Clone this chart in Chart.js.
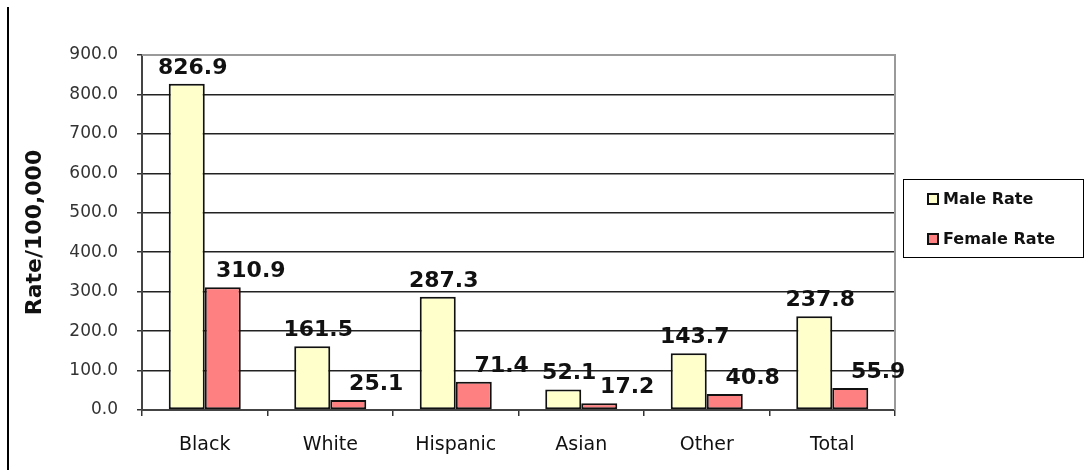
<!DOCTYPE html>
<html>
<head>
<meta charset="utf-8">
<script src="https://cdn.jsdelivr.net/npm/chart.js@4.4.0/dist/chart.umd.min.js"></script>
<style>
  html, body { margin: 0; padding: 0; background: #fff; }
  canvas { display: block; }
</style>
</head>
<body>
<canvas id="rateChart" width="1089" height="470"></canvas>
<script>
// Rates per 100,000 by group
const groups = ['Black', 'White', 'Hispanic', 'Asian', 'Other', 'Total'];
const maleRate = [826.9, 161.5, 287.3, 52.1, 143.7, 237.8];
const femaleRate = [310.9, 25.1, 71.4, 17.2, 40.8, 55.9];
const seriesNames = ['Male Rate', 'Female Rate'];

const FONT = '"DejaVu Sans", sans-serif';

// Value labels above each bar, nudged right like the spreadsheet output
const valueLabels = {
  id: 'valueLabels',
  afterDatasetsDraw(chart) {
    const ctx = chart.ctx;
    ctx.save();
    ctx.font = 'bold 22px ' + FONT;
    ctx.fillStyle = '#111';
    ctx.textAlign = 'center';
    ctx.textBaseline = 'alphabetic';
    chart.data.datasets.forEach((ds, di) => {
      const shift = di === 0 ? 6 : 28;
      chart.getDatasetMeta(di).data.forEach((bar, i) => {
        ctx.fillText(ds.data[i].toFixed(1), bar.x + shift, bar.y - 10);
      });
    });
    ctx.restore();
  }
};

// Plot frame, page rule and boxed legend
const decorations = {
  id: 'decorations',
  beforeDatasetsDraw(chart) {
    const { ctx, chartArea: a } = chart;
    ctx.save();
    ctx.strokeStyle = '#9a9a9a';
    ctx.lineWidth = 2;
    ctx.beginPath();
    ctx.moveTo(a.left, a.top);
    ctx.lineTo(a.right, a.top);
    ctx.lineTo(a.right, a.bottom);
    ctx.stroke();
    ctx.restore();
  },
  afterDraw(chart) {
    const ctx = chart.ctx;
    ctx.save();
    // left rule
    ctx.fillStyle = '#000';
    ctx.fillRect(7, 7, 2, 463);

    // legend box
    const lx = 903, ly = 179, lw = 180, lh = 78;
    ctx.strokeStyle = '#000';
    ctx.lineWidth = 1;
    ctx.strokeRect(lx + 0.5, ly + 0.5, lw, lh);
    ctx.font = 'bold 16px ' + FONT;
    ctx.textBaseline = 'middle';
    ctx.textAlign = 'left';
    chart.data.datasets.forEach((ds, i) => {
      const cy = ly + 20 + i * 40;
      ctx.fillStyle = ds.backgroundColor;
      ctx.fillRect(lx + 25, cy - 5, 10, 10);
      ctx.lineWidth = 2;
      ctx.strokeStyle = '#111';
      ctx.strokeRect(lx + 25, cy - 5, 10, 10);
      ctx.fillStyle = '#111';
      ctx.fillText(ds.label, lx + 40, cy + 1);
    });
    ctx.restore();
  }
};

new Chart(document.getElementById('rateChart'), {
  type: 'bar',
  data: {
    labels: groups,
    datasets: [
      {
        label: seriesNames[0],
        data: maleRate,
        backgroundColor: '#ffffcc',
        borderColor: '#111',
        borderWidth: 2,
        borderSkipped: false
      },
      {
        label: seriesNames[1],
        data: femaleRate,
        backgroundColor: '#ff8080',
        borderColor: '#111',
        borderWidth: 2,
        borderSkipped: false
      }
    ]
  },
  options: {
    responsive: false,
    animation: false,
    devicePixelRatio: 1,
    categoryPercentage: 0.574,
    barPercentage: 1,
    layout: { padding: { top: 55, right: 194, left: 0, bottom: 0 } },
    plugins: {
      legend: { display: false },
      tooltip: { enabled: false }
    },
    scales: {
      x: {
        afterFit(scale) { scale.height = 60; },
        grid: {
          offset: true,
          drawOnChartArea: false,
          drawTicks: true,
          tickLength: 6,
          color: '#333',
          lineWidth: 1.5
        },
        border: { color: '#444', width: 2 },
        ticks: {
          padding: 18,
          color: '#111',
          font: { family: FONT, size: 19 }
        }
      },
      y: {
        min: 0,
        max: 900,
        afterFit(scale) { scale.width = 142; },
        ticks: {
          stepSize: 100,
          padding: 19,
          color: '#333',
          font: { family: FONT, size: 17 },
          callback: v => v.toFixed(1)
        },
        grid: {
          tickLength: 5,
          lineWidth: 1.5,
          color: c => c.tick && c.tick.value === 900 ? '#9a9a9a' : '#222',
          tickColor: '#333'
        },
        border: { color: '#444', width: 2 },
        title: {
          display: true,
          text: 'Rate/100,000',
          color: '#111',
          padding: { top: 22, bottom: 0 },
          font: { family: FONT, size: 22, weight: 'bold' }
        }
      }
    }
  },
  plugins: [decorations, valueLabels]
});
</script>
</body>
</html>
